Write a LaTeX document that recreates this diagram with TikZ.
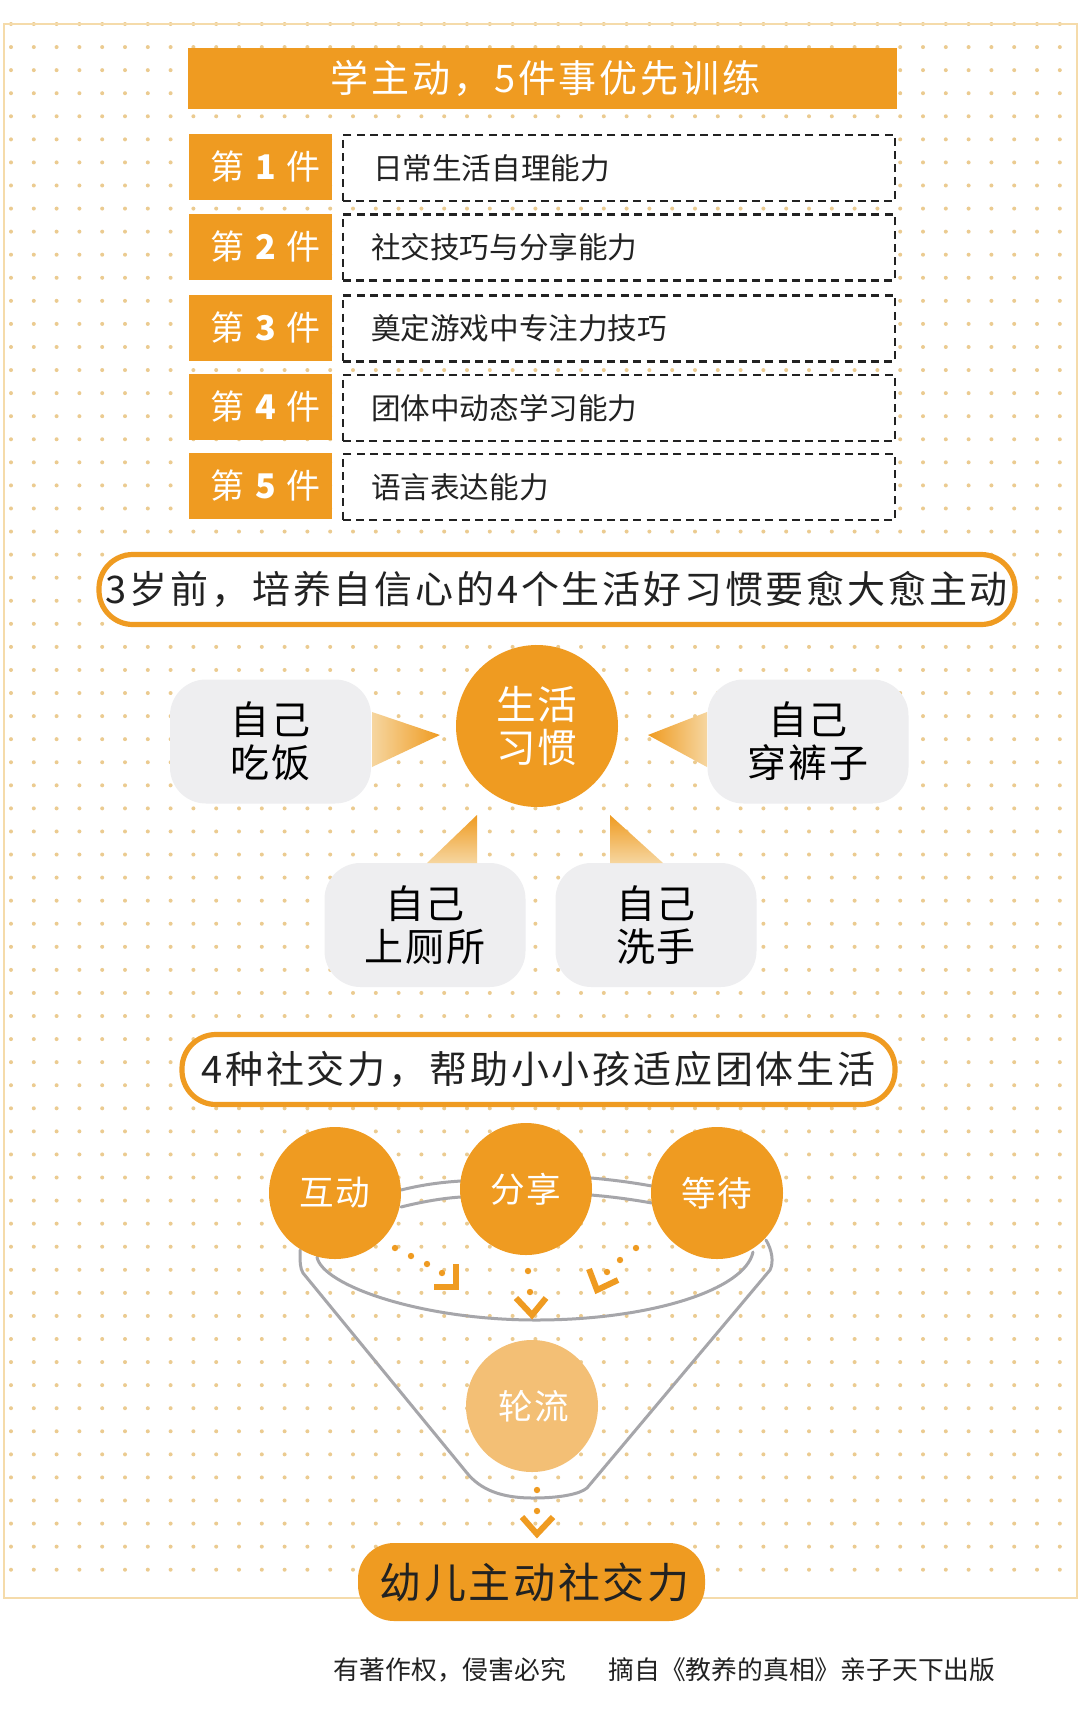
\documentclass[tikz,border=0pt]{standalone}
\usepackage{fontspec}
\usetikzlibrary{calc}
\newfontfamily\cjk[LetterSpace=5]{Noto Sans CJK SC}
\newfontfamily\cjkw[LetterSpace=7.4]{Noto Sans CJK SC}
\newfontfamily\cjkm[LetterSpace=6.2]{Noto Sans CJK SC}
\newfontfamily\cjkn{Noto Sans CJK SC}
\definecolor{org}{HTML}{EF9B21}
\definecolor{paleorg}{HTML}{F3BF75}
\definecolor{dotc}{HTML}{EBCB90}
\definecolor{bordc}{HTML}{F5DBAA}
\definecolor{softg}{HTML}{EEEEF0}
\definecolor{rimg}{HTML}{A6A6AA}
\definecolor{fade}{HTML}{F6D6A0}
\definecolor{ink}{HTML}{222222}
\tikzset{
  titlebar/.style={fill=org,minimum width=354.5pt,minimum height=30.5pt,inner sep=0pt,text=white,font=\cjkw\fontsize{19}{21}\selectfont},
  numlabel/.style={fill=org,minimum width=71.5pt,minimum height=33pt,inner sep=0pt,text=white,font=\cjkn\fontsize{17}{19}\selectfont},
  dashbox/.style={draw=ink,fill=white,dash pattern=on 4pt off 2.6pt,line width=1.4pt,minimum width=276pt,minimum height=33pt,inner sep=0pt,text=ink,font=\cjkn\fontsize{14.8}{17}\selectfont,text width=262pt,align=left},
  headpill/.style={draw=org,fill=white,line width=2.6pt,rounded corners=17pt,inner sep=0pt,minimum height=35pt,text=ink,font=\cjkw\fontsize{19}{21}\selectfont},
  softbox/.style={fill=softg,rounded corners=18pt,minimum width=100.5pt,minimum height=62pt,inner sep=0pt,text=black,align=center,font=\cjk\fontsize{19.5}{21.5}\selectfont},
  bigdisc/.style={circle,fill=org,minimum size=81pt,inner sep=0pt,text=white,align=center,font=\cjk\fontsize{19.8}{21.5}\selectfont},
  disc/.style={circle,fill=org,minimum size=66pt,inner sep=0pt,text=white,font=\cjk\fontsize{17.3}{18}\selectfont},
  rim/.style={draw=rimg,line width=1.5pt,line join=round,line cap=round},
  chev/.style={draw=org,line width=3pt,line join=miter},
  flowdot/.style={fill=org},
}
\begin{document}
\begin{tikzpicture}[x=0.5pt,y=-0.5pt]
\useasboundingbox (0,0) rectangle (1080,1725);
\fill[white] (0,0) rectangle (1080,1725);
% dotted paper
\foreach \i in {0,...,46}{\foreach \j in {0,...,67}{
  \fill[dotc] ({11+22.8*\i},{24+23.07*\j}) circle[radius=2];
}}
\draw[bordc,line width=1pt] (3.5,23.5) rectangle (1076.5,1598);

% top list
\node[titlebar] (ttl) at (542.5,78) {\hspace{3pt}学主动，5件事优先训练};
\foreach \n/\y/\t/\d in {1/167/日常生活自理能力/1pt,2/246.5/社交技巧与分享能力/0pt,3/327.5/奠定游戏中专注力技巧/0pt,4/407/团体中动态学习能力/0pt,5/486/语言表达能力/0pt}{
  \node[numlabel] (lab\n) at (260.5,\y) {\hspace{5pt}第\hspace{5.5pt}\textbf{\n}\hspace{5.5pt}件};
  \node[dashbox] (row\n) at (619,\y+1) {\hspace*{7pt}\hspace*{\d}\t};
}

% habits
\node[headpill,minimum width=458pt] (hab) at (557,589.5) {3岁前，培养自信心的4个生活好习惯要愈大愈主动};
\node[softbox] (eat) at (270.5,741.5) {自己\\吃饭};
\node[softbox] (pants) at (808,741.5) {自己\\穿裤子};
\node[softbox] (toilet) at (425,925) {\raisebox{1pt}{自己}\\\raisebox{1pt}{上厕所}};
\node[softbox] (wash) at (656,925) {\raisebox{1pt}{自己}\\\raisebox{1pt}{洗手}};
\node[bigdisc] (life) at (537,726) {生活\\习惯};
\shade[left color=fade,middle color=org,right color=org] (372,712) -- (440,735) -- (372,767) -- cycle;
\shade[left color=org,middle color=org,right color=fade] (707,712) -- (648,735) -- (707,767) -- cycle;
\shade[bottom color=fade,middle color=org,top color=org] (477,815) -- (477,863) -- (427,863) -- cycle;
\shade[bottom color=fade,middle color=org,top color=org] (610,815) -- (610,863) -- (663,863) -- cycle;

% social skills
\node[headpill,minimum width=356.5pt] (soc) at (538.5,1069.5) {4种社交力，帮助小小孩适应团体生活};

% funnel
\draw[rim] (401,1190) .. controls (425,1184) and (445,1182) .. (461,1181);
\draw[rim] (401,1207) .. controls (425,1201) and (445,1198) .. (461,1197);
\draw[rim] (591,1178) .. controls (615,1180) and (635,1183) .. (652,1186);
\draw[rim] (591,1195) .. controls (615,1197) and (635,1200) .. (652,1203);
\draw[rim] (317,1257) .. controls (322,1285) and (420,1320) .. (536,1320) .. controls (650,1320) and (745,1290) .. (753,1252);
\draw[rim] (300,1250) .. controls (300,1262) and (300,1268) .. (303,1273) -- (467,1473) .. controls (480,1489) and (500,1498) .. (533,1498) .. controls (560,1498) and (580,1494) .. (587,1488) -- (770,1270) .. controls (774,1262) and (772,1250) .. (766,1240);

\node[disc] (hu) at (335,1193) {\raisebox{-0.5pt}{互动}};
\node[disc] (fx) at (526,1189) {\raisebox{-2pt}{分享}};
\node[disc] (dd) at (717,1193) {\raisebox{-0.5pt}{等待}};
\node[disc,fill=paleorg] (ll) at (532,1406) {\hspace{2pt}\raisebox{-1.5pt}{轮流}};

% flows
\foreach \p in {(395,1248),(411,1256),(427,1264),(442,1273),(528,1271),(530,1292),(636,1248),(620,1260),(607,1272),(537,1490),(537,1511)}{
  \fill[flowdot] \p circle[radius=3.2];
}
\draw[chev] (434,1287) -- (456,1287) -- (456,1264);
\draw[chev] (516,1298) -- (532,1315) -- (546,1298);
\draw[chev] (589,1269) -- (597,1290) -- (618,1280);
\draw[chev] (522,1517) -- (537,1534) -- (553,1517);

% result
\node[fill=org,rounded corners=18pt,minimum width=173.5pt,minimum height=39pt,inner sep=0pt,text=ink,font=\cjkm\fontsize{21}{23}\selectfont] (res) at (531.5,1582) {\hspace{3pt}幼儿主动社交力};

% footer
\node[inner sep=0pt,text=ink,font=\cjkn\fontsize{12.9}{15}\selectfont] (cr) at (450,1670) {有著作权，侵害必究};
\node[inner sep=0pt,text=ink,font=\cjkn\fontsize{12.9}{15}\selectfont] (src) at (802,1670) {摘自《教养的真相》亲子天下出版};
\end{tikzpicture}
\end{document}
